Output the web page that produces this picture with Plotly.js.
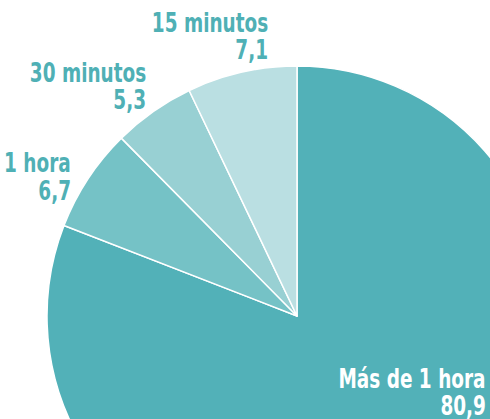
<!DOCTYPE html>
<html>
<head>
<meta charset="utf-8">
<script src="https://cdn.plot.ly/plotly-3.0.1.min.js"></script>
<style>
html,body{margin:0;padding:0;width:490px;height:419px;overflow:hidden;background:#fff;}
#chart{position:absolute;left:-53px;top:-34px;width:650px;height:650px;}
</style>
</head>
<body>
<div id="chart"></div>
<script>
// Data
const categories = ["Más de 1 hora", "1 hora", "30 minutos", "15 minutos"];
const values = [80.9, 6.7, 5.3, 7.1];
const valueLabels = ["80,9", "6,7", "5,3", "7,1"];

// Style
const colors = ["#52b1b8", "#75c2c6", "#98d0d3", "#badfe2"];
const textColors = ["#ffffff", "#4fb0b5", "#4fb0b5", "#4fb0b5"];
// label anchor points in page pixels: [right edge x, name baseline y]
const labelPos = [[488, 388], [73, 173], [148, 82], [270, 33]];
const lineGap = 27;
const fontSize = 27;
const squeeze = 0.76;
const DIV_LEFT = -53, DIV_TOP = -34, ML = 100, MT = 100, MR = 50, MB = 50, PW = 500, PH = 500;

function toPaperX(px){ return (px - DIV_LEFT - ML) / PW; }
function toPaperY(py){ return 1 - (py - DIV_TOP - MT) / PH; }

const font = {family: "'DejaVu Sans Condensed', 'DejaVu Sans', sans-serif", size: fontSize};
const annotations = [];
categories.forEach((c, i) => {
  const [rx, by] = labelPos[i];
  const f = Object.assign({}, font, {color: textColors[i], weight: 700});
  annotations.push({text: "<b>" + c + "</b>", x: toPaperX(rx), y: toPaperY(by - 10), xref: "paper", yref: "paper",
    xanchor: "right", yanchor: "middle", showarrow: false, font: f, align: "right"});
  annotations.push({text: "<b>" + valueLabels[i] + "</b>", x: toPaperX(rx), y: toPaperY(by + lineGap - 10), xref: "paper", yref: "paper",
    xanchor: "right", yanchor: "middle", showarrow: false, font: f, align: "right"});
});

const trace = {
  type: "pie",
  labels: categories,
  values: values,
  sort: false,
  direction: "clockwise",
  rotation: 0,
  textinfo: "none",
  hoverinfo: "skip",
  marker: {colors: colors, line: {color: "#ffffff", width: 1.5}},
  domain: {x: [0, 1], y: [0, 1]}
};

const layout = {
  width: 650, height: 650,
  margin: {l: ML, r: MR, t: MT, b: MB},
  showlegend: false,
  paper_bgcolor: "rgba(0,0,0,0)",
  plot_bgcolor: "rgba(0,0,0,0)",
  annotations: annotations
};

Plotly.newPlot("chart", [trace], layout, {displayModeBar: false, staticPlot: true}).then(() => {
  document.querySelectorAll("#chart .annotation-text").forEach(t => {
    t.style.transformBox = "fill-box";
    t.style.transformOrigin = "right center";
    t.style.transform = "scaleX(" + squeeze + ")";
  });
});
</script>
</body>
</html>
